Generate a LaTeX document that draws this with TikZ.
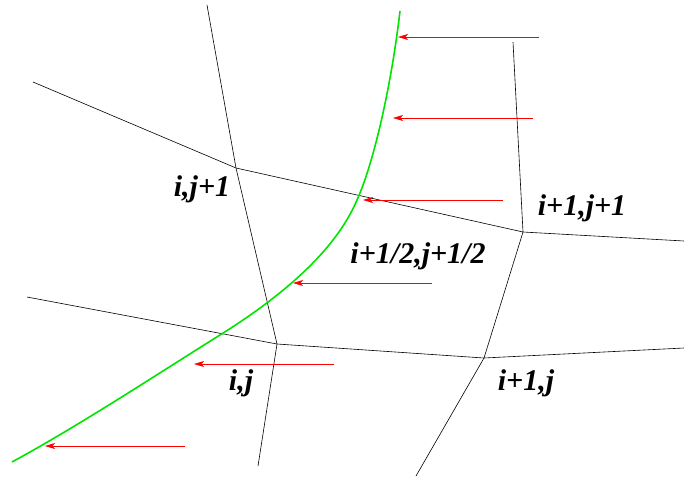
\documentclass[tikz,border=0pt]{standalone}
\usepackage{fontspec}
\setmainfont{Liberation Serif}
\usetikzlibrary{arrows.meta}
\begin{document}
\begin{tikzpicture}[x=1pt,y=-1pt,
  gridline/.style={black,line width=0.6pt},
  front/.style={green!90!black,line width=1.6pt},
  flow/.style={red,line width=0.8pt,-{Stealth[length=10pt,width=6pt,inset=2.5pt]}},
  lab/.style={anchor=base,inner sep=0pt,font=\fontsize{30}{32}\selectfont\bfseries\itshape}]
\useasboundingbox (0,0) rectangle (684,477);
% grid vertices
\coordinate (a1) at (207,5);
\coordinate (v11) at (236,168);
\coordinate (v00) at (277,344);
\coordinate (a2) at (258,466);
\coordinate (b1) at (33,82);
\coordinate (v21) at (523,232);
\coordinate (b2) at (684,241);
\coordinate (c1) at (513,42);
\coordinate (v20) at (484,358);
\coordinate (c2) at (416,476);
\coordinate (d1) at (27,297);
\coordinate (d2) at (684,348);
\draw[gridline] (a1) -- (v11) -- (v00) -- (a2);
\draw[gridline] (b1) -- (v11) -- (v21) -- (b2);
\draw[gridline] (c1) -- (v21) -- (v20) -- (c2);
\draw[gridline] (d1) -- (v00) -- (v20) -- (d2);
% front
\coordinate (f0) at (400,11);
\coordinate (f1) at (357,200);
\coordinate (f2) at (220,335);
\coordinate (f3) at (12,462);
\draw[front] (f0) .. controls (392,80) and (375,160) .. (f1)
  .. controls (340,240) and (300,285) .. (f2)
  .. controls (156,375) and (80,425) .. (f3);
% arrows
\coordinate (s1) at (539,37);  \coordinate (e1) at (398,37);
\coordinate (s2) at (533,118); \coordinate (e2) at (393,118);
\coordinate (s3) at (503,200); \coordinate (e3) at (363,200);
\coordinate (s4) at (432,283); \coordinate (e4) at (293,283);
\coordinate (s5) at (334,364); \coordinate (e5) at (194,364);
\coordinate (s6) at (185,446); \coordinate (e6) at (45,446);
\foreach \k in {1,...,6} \draw[flow] (s\k) -- (e\k);
% labels
\node[lab] (l1) at (202,196) {i,j+1};
\node[lab] (l2) at (582,215) {i+1,j+1};
\node[lab] (l3) at (418,263) {i+1/2,j+1/2};
\node[lab] (l4) at (241,390) {i,j};
\node[lab] (l5) at (526,390) {i+1,j};
\end{tikzpicture}
\end{document}
